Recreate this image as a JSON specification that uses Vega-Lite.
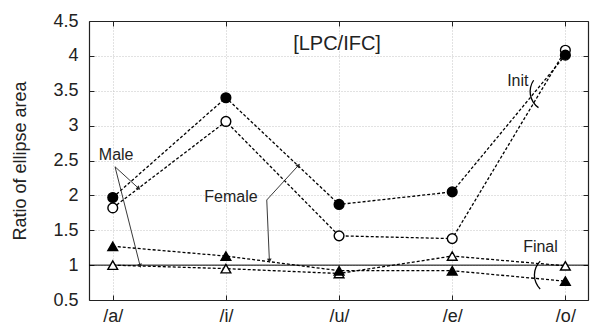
{
  "$schema": "https://vega.github.io/schema/vega-lite/v6.json",
  "width": 499,
  "height": 279,
  "autosize": {"type": "none"},
  "padding": {"left": 89, "top": 21, "right": 4, "bottom": 25},
  "config": {
    "view": {"stroke": null},
    "font": "Liberation Sans",
    "axis": {
      "domainColor": "#222",
      "tickColor": "#222",
      "labelColor": "#222",
      "titleColor": "#222",
      "labelFont": "Liberation Sans",
      "titleFont": "Liberation Sans",
      "labelFontSize": 18,
      "titleFontSize": 18,
      "titleFontWeight": "normal",
      "tickSize": -5,
      "domainWidth": 1.2,
      "tickWidth": 1,
      "labelOverlap": false
    }
  },
  "datasets": {
    "series": [
      {"vowel": "/a/", "i": 0, "group": "Male Init", "value": 1.82},
      {"vowel": "/i/", "i": 1, "group": "Male Init", "value": 3.06},
      {"vowel": "/u/", "i": 2, "group": "Male Init", "value": 1.42},
      {"vowel": "/e/", "i": 3, "group": "Male Init", "value": 1.38},
      {"vowel": "/o/", "i": 4, "group": "Male Init", "value": 4.08},
      {"vowel": "/a/", "i": 0, "group": "Female Init", "value": 1.97},
      {"vowel": "/i/", "i": 1, "group": "Female Init", "value": 3.40},
      {"vowel": "/u/", "i": 2, "group": "Female Init", "value": 1.87},
      {"vowel": "/e/", "i": 3, "group": "Female Init", "value": 2.05},
      {"vowel": "/o/", "i": 4, "group": "Female Init", "value": 4.01},
      {"vowel": "/a/", "i": 0, "group": "Male Final", "value": 1.00},
      {"vowel": "/i/", "i": 1, "group": "Male Final", "value": 0.95},
      {"vowel": "/u/", "i": 2, "group": "Male Final", "value": 0.88},
      {"vowel": "/e/", "i": 3, "group": "Male Final", "value": 1.13},
      {"vowel": "/o/", "i": 4, "group": "Male Final", "value": 0.99},
      {"vowel": "/a/", "i": 0, "group": "Female Final", "value": 1.27},
      {"vowel": "/i/", "i": 1, "group": "Female Final", "value": 1.13},
      {"vowel": "/u/", "i": 2, "group": "Female Final", "value": 0.92},
      {"vowel": "/e/", "i": 3, "group": "Female Final", "value": 0.92},
      {"vowel": "/o/", "i": 4, "group": "Female Final", "value": 0.77}
    ],
    "ref": [{"y": 1}],
    "arrows": [
      {"id": "m1", "x": 0.02, "y": 2.41, "x2": 0.225, "y2": 2.106},
      {"id": "m2", "x": 0.02, "y": 2.41, "x2": 0.24, "y2": 1.0},
      {"id": "f1", "x": 1.361, "y": 1.934, "x2": 1.638, "y2": 2.425},
      {"id": "f2", "x": 1.361, "y": 1.934, "x2": 1.384, "y2": 1.073}
    ],
    "notes": [
      {"text": "[LPC/IFC]", "kind": "title", "i": 1.982, "y": 4.17},
      {"text": "Male", "kind": "label", "i": 0.03, "y": 2.583},
      {"text": "Female", "kind": "label", "i": 1.045, "y": 1.97},
      {"text": "Init", "kind": "label", "i": 3.58, "y": 3.64},
      {"text": "Final", "kind": "label", "i": 3.78, "y": 1.264}
    ],
    "arcs": [
      {"id": "init", "i": 3.862, "y": 3.489},
      {"id": "final", "i": 3.9, "y": 0.858}
    ]
  },
  "layer": [
    {
      "data": {"name": "series"},
      "mark": {"type": "line", "color": "black", "strokeWidth": 1.3, "strokeDash": [3, 2]},
      "encoding": {
        "x": {
          "field": "i", "type": "quantitative",
          "scale": {"domain": [-0.21, 4.2], "nice": false, "zero": false},
          "axis": {
            "values": [0, 1, 2, 3, 4],
            "labelExpr": "['/a/','/i/','/u/','/e/','/o/'][datum.value]",
            "grid": true, "gridDash": [1, 2], "gridColor": "#c4c4c4",
            "labelPadding": 12, "title": null, "labelOverlap": false
          }
        },
        "y": {
          "field": "value", "type": "quantitative",
          "scale": {"domain": [0.5, 4.5], "nice": false, "zero": false},
          "axis": {
            "values": [0.5, 1, 1.5, 2, 2.5, 3, 3.5, 4, 4.5],
            "format": ".1~f",
            "labelOverlap": false,
            "grid": true, "gridDash": [1, 2], "gridColor": "#c4c4c4",
            "labelPadding": 16,
            "title": "Ratio of ellipse area",
            "titleX": -69, "titleY": 139.5, "titleAngle": -90, "titleBaseline": "middle", "titleAlign": "center"
          }
        },
        "detail": {"field": "group"}
      }
    },
    {
      "data": {"name": "series"},
      "mark": {"type": "point", "opacity": 0},
      "encoding": {
        "x": {"field": "i", "type": "quantitative",
          "axis": {"orient": "top", "values": [0, 1, 2, 3, 4], "labels": false, "grid": false, "title": null}},
        "y": {"field": "value", "type": "quantitative",
          "axis": {"orient": "right", "values": [0.5, 1, 1.5, 2, 2.5, 3, 3.5, 4, 4.5], "labels": false, "grid": false, "title": null}}
      }
    },
    {
      "layer": [
        {
          "data": {"name": "ref"},
          "mark": {"type": "rule", "color": "black", "strokeWidth": 1},
          "encoding": {"y": {"field": "y", "type": "quantitative", "axis": null}}
        },
        {
          "data": {"name": "series"},
          "mark": {"type": "point", "filled": true, "stroke": "black", "strokeWidth": 1.4, "size": 95, "opacity": 1},
          "encoding": {
            "x": {"field": "i", "type": "quantitative", "axis": null},
            "y": {"field": "value", "type": "quantitative", "axis": null},
            "shape": {"field": "group", "type": "nominal", "legend": null,
              "scale": {"domain": ["Male Init", "Female Init", "Male Final", "Female Final"], "range": ["circle", "circle", "triangle-up", "triangle-up"]}},
            "fill": {"field": "group", "type": "nominal", "legend": null,
              "scale": {"domain": ["Male Init", "Female Init", "Male Final", "Female Final"], "range": ["white", "black", "white", "black"]}}
          }
        },
        {
          "data": {"name": "arrows"},
          "mark": {"type": "rule", "color": "#222", "strokeWidth": 0.9},
          "encoding": {
            "x": {"field": "x", "type": "quantitative", "axis": null},
            "y": {"field": "y", "type": "quantitative", "axis": null},
            "x2": {"field": "x2"},
            "y2": {"field": "y2"}
          }
        },
        {
          "data": {"name": "arrows"},
          "transform": [{"filter": "datum.id == 'm1'"}],
          "mark": {"type": "point", "shape": "triangle", "filled": true, "color": "#222", "size": 22, "opacity": 1, "angle": 132},
          "encoding": {"x": {"field": "x2", "type": "quantitative", "axis": null}, "y": {"field": "y2", "type": "quantitative", "axis": null}}
        },
        {
          "data": {"name": "arrows"},
          "transform": [{"filter": "datum.id == 'm2'"}],
          "mark": {"type": "point", "shape": "triangle", "filled": true, "color": "#222", "size": 22, "opacity": 1, "angle": 166},
          "encoding": {"x": {"field": "x2", "type": "quantitative", "axis": null}, "y": {"field": "y2", "type": "quantitative", "axis": null}}
        },
        {
          "data": {"name": "arrows"},
          "transform": [{"filter": "datum.id == 'f1'"}],
          "mark": {"type": "point", "shape": "triangle", "filled": true, "color": "#222", "size": 22, "opacity": 1, "angle": 42},
          "encoding": {"x": {"field": "x2", "type": "quantitative", "axis": null}, "y": {"field": "y2", "type": "quantitative", "axis": null}}
        },
        {
          "data": {"name": "arrows"},
          "transform": [{"filter": "datum.id == 'f2'"}],
          "mark": {"type": "point", "shape": "triangle", "filled": true, "color": "#222", "size": 22, "opacity": 1, "angle": 177.5},
          "encoding": {"x": {"field": "x2", "type": "quantitative", "axis": null}, "y": {"field": "y2", "type": "quantitative", "axis": null}}
        },
        {
          "data": {"name": "notes"},
          "transform": [{"filter": "datum.kind == 'label'"}],
          "mark": {"type": "text", "font": "Liberation Sans", "fontSize": 16, "color": "#222", "align": "center", "baseline": "middle"},
          "encoding": {
            "x": {"field": "i", "type": "quantitative", "axis": null},
            "y": {"field": "y", "type": "quantitative", "axis": null},
            "text": {"field": "text"}
          }
        },
        {
          "data": {"name": "notes"},
          "transform": [{"filter": "datum.kind == 'title'"}],
          "mark": {"type": "text", "font": "Liberation Sans", "fontSize": 20, "color": "#222", "align": "center", "baseline": "middle"},
          "encoding": {
            "x": {"field": "i", "type": "quantitative", "axis": null},
            "y": {"field": "y", "type": "quantitative", "axis": null},
            "text": {"field": "text"}
          }
        },
        {
          "data": {"name": "arcs"},
          "transform": [{"filter": "datum.id == 'init'"}],
          "mark": {"type": "arc", "color": "black", "radius": 20.3, "radius2": 19, "theta": 3.752, "theta2": 5.323},
          "encoding": {"x": {"field": "i", "type": "quantitative", "axis": null}, "y": {"field": "y", "type": "quantitative", "axis": null}}
        },
        {
          "data": {"name": "arcs"},
          "transform": [{"filter": "datum.id == 'final'"}],
          "mark": {"type": "arc", "color": "black", "radius": 20.3, "radius2": 19, "theta": 3.927, "theta2": 5.498},
          "encoding": {"x": {"field": "i", "type": "quantitative", "axis": null}, "y": {"field": "y", "type": "quantitative", "axis": null}}
        }
      ]
    }
  ],
  "resolve": {"axis": {"x": "independent", "y": "independent"}}
}
